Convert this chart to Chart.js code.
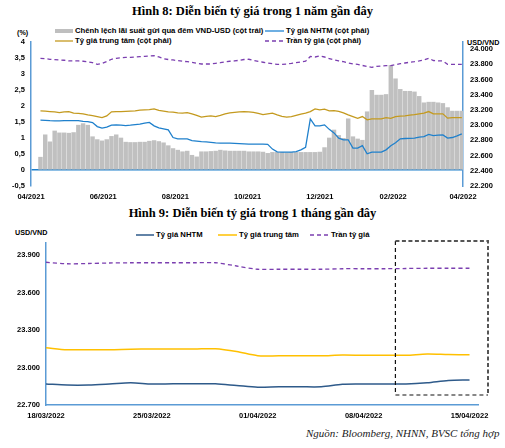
<!DOCTYPE html>
<html>
<head>
<meta charset="utf-8">
<script src="https://cdn.jsdelivr.net/npm/chart.js@4.4.1/dist/chart.umd.min.js"></script>
<style>
  body { margin: 0; width: 505px; height: 448px; background: #fff; position: relative; overflow: hidden;
         font-family: "Liberation Sans", Arial, sans-serif; color: #000; }
  .abs { position: absolute; white-space: nowrap; }
  .title { left: 0; width: 505px; text-align: center; font: bold 12.5px "Liberation Serif", "Times New Roman", serif; line-height: 16px; }
  .small { font-weight: bold; font-size: 7.2px; line-height: 10px; }
  .leg { display: flex; align-items: center; font-size: 7.7px; }
  .leg svg { margin-right: 2px; }
  canvas { position: absolute; left: 0; }
  .src { font: italic 11px "Liberation Serif", "Times New Roman", serif; line-height: 14px; color: #222; }
</style>
</head>
<body>

<div class="abs title" style="top:3px">Hình 8: Diễn biến tỷ giá trong 1 năm gần đây</div>
<div class="abs small" style="left:17px;top:28px">(%)</div>
<div class="abs small" style="left:467px;top:38px">USD/VND</div>

<div class="abs small leg" style="left:55px;top:25.5px">
  <svg width="18" height="6"><rect x="0" y="1" width="18" height="4" fill="#BFBFBF"/></svg>Chênh lệch lãi suất gửi qua đêm VND-USD (cột trái)</div>
<div class="abs small leg" style="left:265px;top:25.5px">
  <svg width="19" height="6"><line x1="0" y1="3" x2="19" y2="3" stroke="#4A9BDB" stroke-width="1.6"/></svg>Tỷ giá NHTM (cột phải)</div>
<div class="abs small leg" style="left:55px;top:36px">
  <svg width="18" height="6"><line x1="0" y1="3" x2="18" y2="3" stroke="#C49A1F" stroke-width="1.3"/></svg>Tỷ giá trung tâm (cột phải)</div>
<div class="abs small leg" style="left:265px;top:36px">
  <svg width="19" height="6"><line x1="0" y1="3" x2="19" y2="3" stroke="#7B3FB0" stroke-width="1.3" stroke-dasharray="4,3"/></svg>Trần tỷ giá (cột phải)</div>

<canvas id="yearChart" width="505" height="205" style="top:0"></canvas>

<div class="abs title" style="top:205px">Hình 9: Diễn biến tỷ giá trong 1 tháng gần đây</div>
<div class="abs small" style="left:15px;top:228px">USD/VND</div>
<div class="abs small leg" style="left:136px;top:230px">
  <svg width="18" height="6"><line x1="0" y1="3" x2="18" y2="3" stroke="#2E5A8A" stroke-width="1.5"/></svg>Tỷ giá NHTM</div>
<div class="abs small leg" style="left:218px;top:230px">
  <svg width="19" height="6"><line x1="0" y1="3" x2="19" y2="3" stroke="#FFC000" stroke-width="1.5"/></svg>Tỷ giá trung tâm</div>
<div class="abs small leg" style="left:310px;top:230px">
  <svg width="19" height="6"><line x1="0" y1="3" x2="19" y2="3" stroke="#7B3FB0" stroke-width="1.3" stroke-dasharray="4,3"/></svg>Trần tỷ giá</div>

<canvas id="monthChart" width="505" height="200" style="top:225px"></canvas>

<div class="abs src" style="left:306px;top:426px">Nguồn: Bloomberg, NHNN, BVSC tổng hợp</div>

<script>
// ---- Hình 8: 1 năm (ngày tính từ 01/04/2021) ----
const yearDays = [
  8, 12, 16, 20, 24, 28, 32, 36, 40, 44,
  48, 52, 56, 60, 64, 68, 72, 76, 80, 84,
  88, 92, 96, 100, 104, 108, 112, 116, 120, 124,
  128, 132, 136, 140, 144, 148, 152, 156, 160, 164,
  168, 172, 176, 180, 184, 188, 192, 196, 200, 204,
  208, 212, 216, 220, 224, 228, 232, 236, 240, 244,
  248, 252, 256, 260, 264, 268, 272, 276, 280, 284,
  288, 292, 296, 300, 304, 308, 312, 316, 320, 324,
  328, 332, 336, 340, 344, 348, 352, 356, 360, 364
];
// chênh lệch lãi suất qua đêm VND-USD (%)
const spreadPct = [
  0.40, 1.10, 0.88, 1.22, 1.16, 1.16, 1.15, 1.17, 1.40, 1.45,
  1.40, 1.04, 0.95, 0.91, 0.95, 1.05, 1.10, 1.00, 0.87, 0.86,
  0.86, 0.87, 0.87, 0.90, 0.92, 0.89, 0.85, 0.76, 0.67, 0.62,
  0.57, 0.59, 0.46, 0.41, 0.57, 0.57, 0.58, 0.59, 0.62, 0.60,
  0.59, 0.59, 0.59, 0.59, 0.57, 0.57, 0.57, 0.56, 0.52, 0.55,
  0.55, 0.55, 0.54, 0.55, 0.55, 0.55, 0.55, 0.55, 0.55, 0.56,
  0.70, 1.00, 1.25, 1.08, 0.99, 1.60, 1.04, 0.97, 0.93, 1.82,
  2.49, 2.34, 2.34, 2.36, 3.27, 2.85, 2.52, 2.46, 2.46, 2.44,
  2.30, 2.10, 2.12, 2.12, 2.10, 2.08, 1.95, 1.84, 1.84, 1.84
];
const nhtmYear = [
  23065, 23062, 23058, 23056, 23056, 23058, 23060, 23060, 23060, 23049,
  23047, 23033, 22981, 22960, 22973, 22999, 23003, 22999, 22994, 22999,
  23007, 23012, 23026, 23036, 22990, 22964, 22951, 22938, 22837, 22820,
  22820, 22820, 22797, 22790, 22784, 22780, 22774, 22767, 22763, 22763,
  22763, 22761, 22757, 22754, 22750, 22750, 22750, 22750, 22748, 22685,
  22649, 22645, 22645, 22645, 22653, 22675, 22708, 23082, 22990, 22990,
  23003, 22944, 22898, 22829, 22807, 22807, 22698, 22698, 22730, 22623,
  22645, 22645, 22645, 22675, 22728, 22767, 22820, 22824, 22826, 22829,
  22842, 22850, 22879, 22863, 22868, 22872, 22829, 22837, 22859, 22885
];
const centralYear = [
  23187, 23183, 23178, 23174, 23165, 23174, 23178, 23157, 23154, 23148,
  23134, 23125, 23112, 23099, 23121, 23174, 23178, 23178, 23180, 23183,
  23187, 23196, 23200, 23204, 23213, 23193, 23183, 23174, 23170, 23161,
  23157, 23165, 23148, 23128, 23104, 23115, 23121, 23112, 23128, 23148,
  23161, 23167, 23174, 23178, 23174, 23167, 23154, 23138, 23148, 23157,
  23134, 23115, 23104, 23112, 23128, 23144, 23157, 23178, 23213, 23200,
  23209, 23187, 23191, 23180, 23161, 23134, 23112, 23089, 23112, 23069,
  23082, 23082, 23082, 23099, 23089, 23112, 23117, 23121, 23130, 23138,
  23148, 23157, 23178, 23148, 23148, 23148, 23091, 23099, 23099, 23099
];
const ceilingYear = [
  23878, 23873, 23865, 23860, 23856, 23852, 23843, 23843, 23843, 23839,
  23833, 23820, 23799, 23810, 23836, 23865, 23878, 23886, 23889, 23891,
  23895, 23899, 23904, 23908, 23912, 23895, 23873, 23862, 23856, 23847,
  23839, 23833, 23826, 23812, 23803, 23803, 23803, 23812, 23820, 23830,
  23839, 23843, 23852, 23862, 23865, 23849, 23836, 23826, 23816, 23807,
  23799, 23799, 23803, 23810, 23820, 23830, 23839, 23902, 23895, 23908,
  23895, 23875, 23856, 23843, 23833, 23816, 23803, 23799, 23784, 23771,
  23760, 23771, 23777, 23781, 23781, 23794, 23807, 23816, 23826, 23833,
  23843, 23856, 23878, 23849, 23843, 23843, 23799, 23799, 23799, 23799
];
const yearTickDays = [0, 61, 122, 183, 244, 306, 365];
const yearTickLabels = ['04/2021', '06/2021', '08/2021', '10/2021', '12/2021', '02/2022', '04/2022'];
const yearRightTicks = [22200, 22400, 22600, 22800, 23000, 23200, 23400, 23600, 23800, 24000];

// ---- Hình 9: 1 tháng ----
const monthDates = [
  '18/03/2022', '21/03/2022', '22/03/2022', '23/03/2022', '24/03/2022', '25/03/2022',
  '28/03/2022', '29/03/2022', '30/03/2022', '31/03/2022', '01/04/2022',
  '04/04/2022', '05/04/2022', '06/04/2022', '07/04/2022', '08/04/2022',
  '11/04/2022', '12/04/2022', '13/04/2022', '14/04/2022', '15/04/2022'
];
const nhtmMonth = [22868, 22860, 22860, 22868, 22878, 22868, 22870, 22870, 22870, 22856, 22842,
                   22846, 22846, 22846, 22866, 22868, 22868, 22868, 22878, 22896, 22900];
const centralMonth = [23158, 23142, 23142, 23142, 23146, 23148, 23148, 23148, 23150, 23128, 23094,
                      23094, 23094, 23094, 23100, 23098, 23098, 23098, 23108, 23104, 23102];
const ceilingMonth = [23842, 23830, 23832, 23836, 23838, 23838, 23838, 23838, 23838, 23812, 23786,
                      23786, 23786, 23786, 23790, 23790, 23790, 23792, 23794, 23794, 23794];
const monthTickIdx = [0, 5, 10, 15, 20];
const monthTicks = [22700, 23000, 23300, 23600, 23900];
// vùng khoanh nét đứt (theo chỉ số ngày và giá trị)
const boxFromIdx = 16.5;
const boxLow = 22780;

const tickFont = { family: "'Liberation Sans', Arial, sans-serif", size: 7.5, weight: 'bold' };
const axisBlue = '#5B9BD5';
const pairs = (xs, ys) => xs.map((x, i) => ({ x: x, y: ys[i] }));
const thousands = v => (v / 1000).toFixed(3);

new Chart(document.getElementById('yearChart'), {
  type: 'bar',
  data: {
    datasets: [
      { type: 'line', data: pairs(yearDays, nhtmYear), yAxisID: 'y1', borderColor: '#1F80CC',
        borderWidth: 1.3, pointRadius: 0, tension: 0, order: 1 },
      { type: 'line', data: pairs(yearDays, centralYear), yAxisID: 'y1', borderColor: '#C49A1F',
        borderWidth: 1.3, pointRadius: 0, tension: 0, order: 2 },
      { type: 'line', data: pairs(yearDays, ceilingYear), yAxisID: 'y1', borderColor: '#7B3FB0',
        borderWidth: 1.3, borderDash: [4, 3], pointRadius: 0, tension: 0, order: 3 },
      { type: 'bar', data: pairs(yearDays, spreadPct), yAxisID: 'y', backgroundColor: '#C0C0C0',
        barThickness: 3.8, order: 4 }
    ]
  },
  options: {
    responsive: false, animation: false, events: [],
    layout: { padding: { top: 42 } },
    plugins: { legend: { display: false }, tooltip: { enabled: false } },
    scales: {
      x: {
        type: 'linear', min: 0, max: 365, offset: false,
        grid: { display: false, drawTicks: false, tickLength: 0 },
        border: { display: false },
        afterBuildTicks: s => { s.ticks = yearTickDays.map(v => ({ value: v })); },
        afterFit: s => { s.height = 19; },
        ticks: { autoSkip: false, maxRotation: 0, padding: 6, color: '#000', font: tickFont,
                 callback: v => yearTickLabels[yearTickDays.indexOf(v)] }
      },
      y: {
        position: 'left', min: -0.5, max: 4,
        ticks: { stepSize: 0.5, padding: 6, color: '#000', font: tickFont,
                 callback: v => String(v).replace('.', ',') },
        grid: { drawTicks: false, tickLength: 0, lineWidth: 1.5,
                color: c => (c.tick && c.tick.value === 0) ? '#1F80CC' : 'rgba(0,0,0,0)' },
        border: { color: axisBlue, width: 1.5 },
        afterFit: s => { s.width = 31; }
      },
      y1: {
        position: 'right', min: 22200, max: 24092,
        afterBuildTicks: s => { s.ticks = yearRightTicks.map(v => ({ value: v })); },
        ticks: { padding: 7, color: '#000', font: tickFont, callback: thousands },
        grid: { display: false, drawTicks: false, tickLength: 0 },
        border: { color: axisBlue, width: 1.5 },
        afterFit: s => { s.width = 42; }
      }
    }
  }
});

const dashedBox = {
  id: 'dashedBox',
  afterDatasetsDraw(chart) {
    const { ctx, chartArea, scales } = chart;
    const left = scales.x.getPixelForValue(boxFromIdx);
    const right = chartArea.right + 10;
    const top = chartArea.top - 1.5;
    const bottom = scales.y.getPixelForValue(boxLow);
    ctx.save();
    ctx.strokeStyle = '#111';
    ctx.lineWidth = 1.2;
    ctx.setLineDash([4, 3]);
    ctx.beginPath();
    ctx.moveTo(left, top); ctx.lineTo(left, bottom); ctx.lineTo(right, bottom);
    ctx.stroke();
    ctx.strokeStyle = '#555';
    ctx.lineWidth = 2;
    ctx.setLineDash([4, 2.5]);
    ctx.beginPath();
    ctx.moveTo(left, top); ctx.lineTo(right, top); ctx.lineTo(right, bottom);
    ctx.stroke();
    ctx.restore();
  }
};

new Chart(document.getElementById('monthChart'), {
  type: 'line',
  data: {
    datasets: [
      { data: pairs(monthDates.map((d, i) => i), nhtmMonth), borderColor: '#2E5A8A',
        borderWidth: 1.5, pointRadius: 0, tension: 0.3 },
      { data: pairs(monthDates.map((d, i) => i), centralMonth), borderColor: '#FFC000',
        borderWidth: 1.5, pointRadius: 0, tension: 0.3 },
      { data: pairs(monthDates.map((d, i) => i), ceilingMonth), borderColor: '#7B3FB0',
        borderWidth: 1.3, borderDash: [4, 3], pointRadius: 0, tension: 0.3 }
    ]
  },
  options: {
    responsive: false, animation: false, events: [],
    layout: { padding: { top: 17.5, right: 27 } },
    plugins: { legend: { display: false }, tooltip: { enabled: false } },
    scales: {
      x: {
        type: 'linear', min: 0, max: 20.4, offset: false,
        grid: { display: false, drawTicks: false, tickLength: 0 },
        border: { color: axisBlue, width: 1.5 },
        afterBuildTicks: s => { s.ticks = monthTickIdx.map(v => ({ value: v })); },
        afterFit: s => { s.height = 20; },
        ticks: { autoSkip: false, maxRotation: 0, padding: 6, color: '#000', font: tickFont,
                 callback: v => monthDates[v] }
      },
      y: {
        min: 22700, max: 24000,
        afterBuildTicks: s => { s.ticks = monthTicks.map(v => ({ value: v })); },
        ticks: { padding: 6, color: '#000', font: tickFont, callback: thousands },
        grid: { display: false, drawTicks: false, tickLength: 0 },
        border: { color: axisBlue, width: 1.5 },
        afterFit: s => { s.width = 46; }
      }
    }
  },
  plugins: [dashedBox]
});
</script>
</body>
</html>
